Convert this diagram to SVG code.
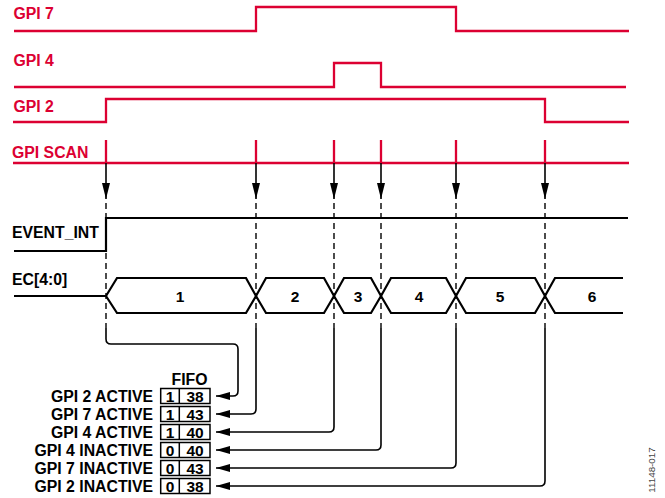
<svg xmlns="http://www.w3.org/2000/svg" width="665" height="498" viewBox="0 0 665 498">
<style>
  .red { fill: none; stroke: #DC0032; stroke-width: 2.3; }
  .rl { font-family: "Liberation Sans", Arial, sans-serif; font-weight: bold; font-size: 15.8px; fill: #DC0032; }
  .bl { font-family: "Liberation Sans", Arial, sans-serif; font-weight: bold; font-size: 15.8px; fill: #000; }
  .num { font-family: "Liberation Sans", Arial, sans-serif; font-weight: bold; font-size: 15.5px; fill: #000; text-anchor: middle; }
  .sig { fill: none; stroke: #000; stroke-width: 2.2; stroke-linejoin: miter; }
  .dash { fill: none; stroke: #000; stroke-width: 1.4; stroke-dasharray: 6 4; }
  .conn { fill: none; stroke: #000; stroke-width: 1.6; }
  .cell { fill: #fff; stroke: #000; stroke-width: 1.5; }
</style>
<defs>
  <marker id="ah" markerUnits="userSpaceOnUse" viewBox="0 0 14 8" markerWidth="14" markerHeight="8" refX="14" refY="4" orient="auto">
    <path d="M0,0 L14,4 L0,8 Z" fill="#000"/>
  </marker>
  <marker id="ahs" markerUnits="userSpaceOnUse" viewBox="0 0 16 8" markerWidth="16" markerHeight="8" refX="16" refY="4" orient="auto">
    <path d="M0,0 L16,4 L0,8 Z" fill="#000"/>
  </marker>
</defs>
<rect width="665" height="498" fill="#fff"/>

<g id="gpi7">
  <text class="rl" x="13.5" y="18.5">GPI 7</text>
  <path class="red" d="M14,31 H256 V7 H456 V31 H629"/>
</g>
<g id="gpi4">
  <text class="rl" x="13.5" y="65.5">GPI 4</text>
  <path class="red" d="M14,87 H334 V63 H381 V87 H626"/>
</g>
<g id="gpi2">
  <text class="rl" x="13.5" y="111.5">GPI 2</text>
  <path class="red" d="M13,122 H106 V99 H545 V122 H629"/>
</g>
<g id="gpiscan">
  <text class="rl" x="12" y="157.5">GPI SCAN</text>
  <path class="red" d="M13,163 H629 M106,140 V163 M256,140 V163 M334,140 V163 M381,140 V163 M456,140 V163 M545,140 V163"/>
</g>

<g id="event_int">
  <text class="bl" x="12" y="237.5">EVENT_INT</text>
  <path class="sig" d="M14,251 H106 V218 H628"/>
</g>

<g id="ec">
  <text class="bl" x="12" y="284.5">EC[4:0]</text>
  <path class="sig" d="M14,296 H106"/>
  <polygon class="sig" points="106,296 117,278 246,278 256,296 246,313 117,313"/>
  <polygon class="sig" points="256,296 266,278 324,278 334,296 324,313 266,313"/>
  <polygon class="sig" points="334,296 344,278 371,278 381,296 371,313 344,313"/>
  <polygon class="sig" points="381,296 391,278 446,278 456,296 446,313 391,313"/>
  <polygon class="sig" points="456,296 466,278 535,278 545,296 535,313 466,313"/>
  <path class="sig" d="M623,278 H555 L545,296 L555,313 H623"/>
  <text class="num" x="180" y="301.5">1</text>
  <text class="num" x="295" y="301.5">2</text>
  <text class="num" x="358" y="301.5">3</text>
  <text class="num" x="419" y="301.5">4</text>
  <text class="num" x="500" y="301.5">5</text>
  <text class="num" x="592" y="301.5">6</text>
</g>

<g id="fifo">
  <text class="bl" x="189.5" y="385" text-anchor="middle">FIFO</text>
  <g id="row1">
    <text class="bl" x="153" y="402" text-anchor="end">GPI 2 ACTIVE</text>
    <rect class="cell" x="160.7" y="388.5" width="49.3" height="15"/>
    <line class="cell" x1="179.3" y1="388.5" x2="179.3" y2="403.5"/>
    <text class="num" x="170" y="401.5">1</text>
    <text class="num" x="195" y="401.5">38</text>
  </g>
  <g id="row2">
    <text class="bl" x="153" y="420" text-anchor="end">GPI 7 ACTIVE</text>
    <rect class="cell" x="160.7" y="406.5" width="49.3" height="15"/>
    <line class="cell" x1="179.3" y1="406.5" x2="179.3" y2="421.5"/>
    <text class="num" x="170" y="419.5">1</text>
    <text class="num" x="195" y="419.5">43</text>
  </g>
  <g id="row3">
    <text class="bl" x="153" y="438" text-anchor="end">GPI 4 ACTIVE</text>
    <rect class="cell" x="160.7" y="424.5" width="49.3" height="15"/>
    <line class="cell" x1="179.3" y1="424.5" x2="179.3" y2="439.5"/>
    <text class="num" x="170" y="437.5">1</text>
    <text class="num" x="195" y="437.5">40</text>
  </g>
  <g id="row4">
    <text class="bl" x="153" y="456" text-anchor="end">GPI 4 INACTIVE</text>
    <rect class="cell" x="160.7" y="442.5" width="49.3" height="15"/>
    <line class="cell" x1="179.3" y1="442.5" x2="179.3" y2="457.5"/>
    <text class="num" x="170" y="455.5">0</text>
    <text class="num" x="195" y="455.5">40</text>
  </g>
  <g id="row5">
    <text class="bl" x="153" y="474" text-anchor="end">GPI 7 INACTIVE</text>
    <rect class="cell" x="160.7" y="460.5" width="49.3" height="15"/>
    <line class="cell" x1="179.3" y1="460.5" x2="179.3" y2="475.5"/>
    <text class="num" x="170" y="473.5">0</text>
    <text class="num" x="195" y="473.5">43</text>
  </g>
  <g id="row6">
    <text class="bl" x="153" y="492" text-anchor="end">GPI 2 INACTIVE</text>
    <rect class="cell" x="160.7" y="478.5" width="49.3" height="15"/>
    <line class="cell" x1="179.3" y1="478.5" x2="179.3" y2="493.5"/>
    <text class="num" x="170" y="491.5">0</text>
    <text class="num" x="195" y="491.5">38</text>
  </g>
</g>

<g id="connectors">
  <g id="scan-arrows">
    <line class="conn" x1="106" y1="163" x2="106" y2="199" marker-end="url(#ahs)"/>
    <line class="conn" x1="256" y1="163" x2="256" y2="199" marker-end="url(#ahs)"/>
    <line class="conn" x1="334" y1="163" x2="334" y2="199" marker-end="url(#ahs)"/>
    <line class="conn" x1="381" y1="163" x2="381" y2="199" marker-end="url(#ahs)"/>
    <line class="conn" x1="456" y1="163" x2="456" y2="199" marker-end="url(#ahs)"/>
    <line class="conn" x1="545" y1="163" x2="545" y2="199" marker-end="url(#ahs)"/>
  </g>
  <g id="dashes">
    <line class="dash" x1="106" y1="203" x2="106" y2="328"/>
    <line class="dash" x1="256" y1="203" x2="256" y2="328"/>
    <line class="dash" x1="334" y1="203" x2="334" y2="328"/>
    <line class="dash" x1="381" y1="203" x2="381" y2="328"/>
    <line class="dash" x1="456" y1="203" x2="456" y2="328"/>
    <line class="dash" x1="545" y1="203" x2="545" y2="328"/>
  </g>
  <path class="conn" d="M106,328 V339 Q106,344 111,344 H233 Q238,344 238,349 V391 Q238,396 233,396 H216" marker-end="url(#ah)"/>
  <path class="conn" d="M256,328 V409 Q256,414 251,414 H216" marker-end="url(#ah)"/>
  <path class="conn" d="M334,328 V427 Q334,432 329,432 H216" marker-end="url(#ah)"/>
  <path class="conn" d="M381,328 V445 Q381,450 376,450 H216" marker-end="url(#ah)"/>
  <path class="conn" d="M456,328 V463 Q456,468 451,468 H216" marker-end="url(#ah)"/>
  <path class="conn" d="M545,328 V481 Q545,486 540,486 H216" marker-end="url(#ah)"/>
</g>

<text x="655" y="470" transform="rotate(-90 655 470)" text-anchor="middle" font-family="Liberation Sans, Arial, sans-serif" font-size="9.8" fill="#444">11148-017</text>
</svg>
